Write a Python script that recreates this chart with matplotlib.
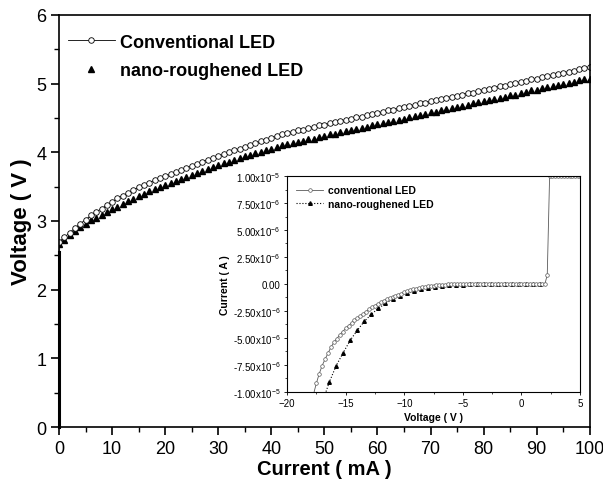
import numpy as np
import matplotlib
matplotlib.use('Agg')
import matplotlib.pyplot as plt
from matplotlib.ticker import MultipleLocator, FixedLocator

plt.rcParams['font.family'] = ['Liberation Sans', 'DejaVu Sans']
plt.rcParams['mathtext.default'] = 'regular'

# Main plot: forward voltage vs current (1 mA steps)
current_ma = np.arange(0, 101)
conv_volt = [2.70, 2.76, 2.83, 2.90, 2.96, 3.02, 3.08, 3.13, 3.18, 3.23,
             3.28, 3.33, 3.37, 3.41, 3.45, 3.49, 3.52, 3.56, 3.59, 3.62,
             3.65, 3.68, 3.71, 3.74, 3.77, 3.80, 3.83, 3.86, 3.89, 3.92,
             3.94, 3.97, 4.00, 4.03, 4.05, 4.08, 4.11, 4.13, 4.16, 4.18,
             4.21, 4.23, 4.26, 4.28, 4.30, 4.32, 4.33, 4.35, 4.37, 4.39,
             4.40, 4.42, 4.44, 4.46, 4.47, 4.49, 4.51, 4.52, 4.54, 4.56,
             4.57, 4.59, 4.61, 4.62, 4.64, 4.66, 4.67, 4.69, 4.71, 4.72,
             4.74, 4.76, 4.77, 4.79, 4.81, 4.82, 4.84, 4.86, 4.87, 4.89,
             4.91, 4.92, 4.94, 4.96, 4.97, 4.99, 5.01, 5.02, 5.04, 5.06,
             5.07, 5.09, 5.11, 5.12, 5.14, 5.16, 5.17, 5.19, 5.21, 5.22,
             5.24]
nano_volt = [2.66, 2.73, 2.80, 2.86, 2.91, 2.96, 3.01, 3.05, 3.09, 3.13,
             3.17, 3.21, 3.25, 3.29, 3.32, 3.36, 3.39, 3.43, 3.46, 3.49,
             3.52, 3.55, 3.58, 3.61, 3.64, 3.67, 3.70, 3.73, 3.76, 3.78,
             3.81, 3.84, 3.86, 3.89, 3.91, 3.94, 3.96, 3.99, 4.01, 4.03,
             4.05, 4.07, 4.10, 4.12, 4.14, 4.15, 4.17, 4.19, 4.20, 4.22,
             4.24, 4.26, 4.27, 4.29, 4.31, 4.32, 4.34, 4.36, 4.37, 4.39,
             4.41, 4.42, 4.44, 4.46, 4.47, 4.49, 4.51, 4.53, 4.54, 4.56,
             4.58, 4.59, 4.61, 4.63, 4.64, 4.66, 4.68, 4.69, 4.71, 4.73,
             4.74, 4.76, 4.78, 4.79, 4.81, 4.83, 4.84, 4.86, 4.88, 4.90,
             4.91, 4.93, 4.95, 4.96, 4.98, 5.00, 5.01, 5.03, 5.05, 5.06,
             5.07]
# turn-on part of the sweep at ~0 mA
turnon_ma = [0, 0]
turnon_volt = [0.0, 2.55]

# Inset: I-V curves (current in units of 1e-6 A)
inset_v_conv = [-17.75, -17.5, -17.25, -17.0, -16.75, -16.5, -16.25, -16.0,
                -15.75, -15.5, -15.25, -15.0, -14.75, -14.5, -14.25, -14.0,
                -13.75, -13.5, -13.25, -13.0, -12.75, -12.5, -12.25, -12.0,
                -11.75, -11.5, -11.25, -11.0, -10.75, -10.5, -10.25, -10.0,
                -9.75, -9.5, -9.25, -9.0, -8.75, -8.5, -8.25, -8.0,
                -7.75, -7.5, -7.25, -7.0, -6.75, -6.5, -6.25, -6.0,
                -5.75, -5.5, -5.25, -5.0, -4.75, -4.5, -4.25, -4.0,
                -3.75, -3.5, -3.25, -3.0, -2.75, -2.5, -2.25, -2.0,
                -1.75, -1.5, -1.25, -1.0, -0.75, -0.5, -0.25, 0.0,
                0.25, 0.5, 0.75, 1.0, 1.25, 1.5, 1.75, 2.0,
                2.2, 2.4, 2.6, 2.85, 3.1, 3.35, 3.6, 3.85, 4.1, 4.35, 4.6, 4.85, 5.0]
inset_i_conv = [-10.25, -9.2, -8.3, -7.55, -6.95, -6.4, -5.85, -5.4,
                -5.05, -4.72, -4.40, -4.12, -3.86, -3.60, -3.38, -3.17,
                -2.96, -2.75, -2.55, -2.35, -2.17, -2.00, -1.84, -1.69,
                -1.55, -1.42, -1.30, -1.19, -1.08, -0.98, -0.89, -0.75,
                -0.66, -0.58, -0.50, -0.43, -0.36, -0.30, -0.25, -0.21,
                -0.17, -0.14, -0.11, -0.09, -0.07, -0.05, -0.04, -0.03,
                -0.02, -0.02, -0.01, -0.01, 0.0, 0.0, 0.0, 0.0,
                0.0, 0.0, 0.0, 0.0, 0.0, 0.0, 0.0, 0.0,
                0.0, 0.0, 0.0, 0.0, 0.0, 0.0, 0.0, 0.0,
                0.0, 0.0, 0.0, 0.0, 0.0, 0.0, 0.0, 0.0,
                0.85, 10.0, 10.0, 10.0, 10.0, 10.0, 10.0, 10.0, 10.0, 10.0, 10.0, 10.0, 10.0]
inset_v_nano = [-17.0, -16.4, -15.8, -15.2, -14.6, -14.0, -13.4, -12.8,
                -12.2, -11.6, -11.0, -10.4, -9.8, -9.2, -8.6, -8.0,
                -7.4, -6.8, -6.2, -5.6, -5.0, -4.4, -3.8, -3.2,
                -2.6, -2.0, -1.4, -0.8, -0.2, 0.4, 1.0, 1.6]
inset_i_nano = [-11.0, -9.1, -7.55, -6.35, -5.2, -4.28, -3.45, -2.80,
                -2.25, -1.80, -1.40, -1.08, -0.85, -0.66, -0.48, -0.36,
                -0.27, -0.18, -0.12, -0.08, -0.05, -0.03, -0.02, -0.01,
                0.0, 0.0, 0.0, 0.0, 0.0, 0.0, 0.0, 0.0]
inset_yticks = [-10, -7.5, -5, -2.5, 0, 2.5, 5, 7.5, 10]
inset_ylabels = [r'-1.00x10$^{-5}$', r'-7.50x10$^{-6}$', r'-5.00x10$^{-6}$',
                 r'-2.50x10$^{-6}$', '0.00', r'2.50x10$^{-6}$',
                 r'5.00x10$^{-6}$', r'7.50x10$^{-6}$', r'1.00x10$^{-5}$']

fig = plt.figure(figsize=(6.03, 4.81), dpi=100)
ax = fig.add_axes([0.098, 0.110, 0.880, 0.857])

ax.plot(turnon_ma, turnon_volt, color='black', lw=2.2, clip_on=False, zorder=3)
ax.plot([0, 0], [2.55, 2.70], color='0.5', lw=0.8)
ax.plot(current_ma, nano_volt, ls='none', marker='^', ms=3.7,
        color='black', label='nano-roughened LED')
ax.plot(current_ma, conv_volt, color='black', lw=0.6, marker='o', ms=4.0,
        mfc='white', mec='black', mew=0.6, label='Conventional LED')

ax.set_xlim(0, 100)
ax.set_ylim(0, 6)
ax.xaxis.set_major_locator(MultipleLocator(10))
ax.xaxis.set_minor_locator(MultipleLocator(5))
ax.yaxis.set_major_locator(MultipleLocator(1))
ax.yaxis.set_minor_locator(MultipleLocator(0.5))
ax.tick_params(which='major', direction='out', length=6, width=1.2, labelsize=13, pad=3)
ax.tick_params(which='minor', direction='out', length=3.5, width=1.0)
for s in ax.spines.values():
    s.set_linewidth(1.2)
ax.set_xlabel('Current ( mA )', fontsize=14.5, fontweight='bold', labelpad=2)
ax.set_ylabel('Voltage ( V )', fontsize=16, fontweight='bold', labelpad=3)

h, l = ax.get_legend_handles_labels()
leg = ax.legend(h[::-1], l[::-1], loc='upper left', bbox_to_anchor=(-0.018, 0.998),
                frameon=False, handlelength=2.6, handletextpad=0.3,
                labelspacing=0.62, borderaxespad=0.6,
                prop={'weight': 'bold', 'size': 13})

# inset
ax2 = fig.add_axes([0.476, 0.183, 0.486, 0.449])
ax2.plot(inset_v_nano, inset_i_nano, color='black', ls=':', lw=0.8,
         marker='^', ms=2.6, label='nano-roughened LED')
ax2.plot(inset_v_conv, inset_i_conv, color='0.35', lw=0.6, marker='o', ms=2.6,
         mfc='white', mec='0.35', mew=0.5, label='conventional LED')
ax2.set_xlim(-20, 5)
ax2.set_ylim(-10, 10)
ax2.xaxis.set_major_locator(MultipleLocator(5))
ax2.xaxis.set_minor_locator(MultipleLocator(2.5))
ax2.yaxis.set_major_locator(FixedLocator(inset_yticks))
ax2.yaxis.set_minor_locator(MultipleLocator(1.25))
ax2.set_yticklabels(inset_ylabels)
ax2.tick_params(which='major', direction='out', length=2.5, width=0.6, labelsize=7, pad=2)
ax2.tick_params(which='minor', direction='out', length=1.3, width=0.5)
for s in ax2.spines.values():
    s.set_linewidth(0.8)
ax2.set_xlabel('Voltage ( V )', fontsize=7.5, fontweight='bold', labelpad=3)
ax2.set_ylabel('Current ( A )', fontsize=7.5, fontweight='bold', labelpad=2)
h2, l2 = ax2.get_legend_handles_labels()
ax2.legend(h2[::-1], l2[::-1], loc='upper left', frameon=False,
           handlelength=2.6, handletextpad=0.4, labelspacing=0.3,
           borderaxespad=0.5, prop={'weight': 'bold', 'size': 7.5})

fig.savefig('out.png', dpi=100)
